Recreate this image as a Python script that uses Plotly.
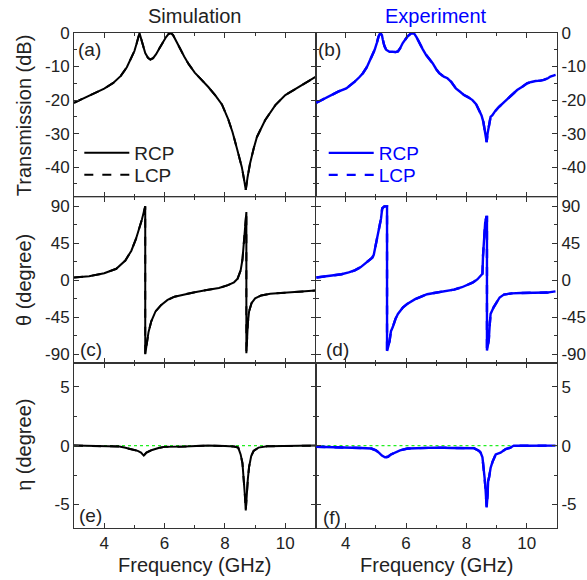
import plotly.graph_objects as go
from plotly.subplots import make_subplots

# ---------------- data ----------------
# (a) Simulated transmission (dB)
sim_T_freq = [3.0, 3.3, 3.6, 4.0, 4.3, 4.55, 4.75, 4.9, 5.0, 5.07, 5.12, 5.17, 5.22, 5.28, 5.36,
              5.45, 5.53, 5.62, 5.72, 5.84, 5.95, 6.05, 6.13, 6.2, 6.28, 6.38, 6.5, 6.65, 6.8,
              7.0, 7.2, 7.45, 7.7, 7.9, 8.1, 8.25, 8.4, 8.5, 8.56, 8.63, 8.69, 8.75, 8.83, 8.95,
              9.06, 9.33, 9.67, 10.0, 10.3, 10.56, 10.8, 11.0]
sim_T = [-20.8, -19.6, -18.3, -16.6, -14.9, -12.8, -10.2, -7.6, -5.4, -3.3, -1.6, 0.0, -1.6, -3.8, -6.0,
         -7.4, -7.9, -7.5, -6.3, -4.4, -2.6, -1.2, -0.3, 0.0, -0.6, -2.2, -4.4, -7.0, -9.3,
         -11.8, -13.7, -16.1, -18.8, -21.3, -25.5, -29.5, -34.5, -38.0, -40.0, -43.5, -46.8, -43.0, -39.0, -34.5,
         -31.0, -26.0, -21.5, -18.5, -16.8, -15.5, -14.2, -13.1]

# (b) Measured transmission (dB)
exp_T_freq = [3.03, 3.2, 3.42, 3.6, 3.75, 4.02, 4.15, 4.3, 4.45, 4.57, 4.7, 4.79, 4.88, 4.96, 5.03, 5.09,
              5.15, 5.2, 5.23, 5.28, 5.34, 5.45, 5.56, 5.65, 5.73, 5.8, 5.89, 5.97, 6.05, 6.16, 6.27,
              6.35, 6.44, 6.55, 6.66, 6.77, 6.88, 7.0, 7.1, 7.25, 7.37, 7.5, 7.65, 7.8, 7.92, 8.05,
              8.2, 8.32, 8.42, 8.5, 8.56, 8.61, 8.64, 8.67, 8.7, 8.75, 8.8, 8.86, 8.95, 9.08, 9.2,
              9.35, 9.5, 9.68, 9.85, 10.01, 10.15, 10.29, 10.45, 10.56, 10.7, 10.78, 10.88, 10.95]
exp_T = [-20.8, -20.0, -19.0, -18.0, -17.5, -16.5, -15.6, -14.5, -13.2, -12.0, -10.2, -8.5, -6.8, -5.0, -3.0, -1.0,
         0.0, -0.6, -2.0, -3.8, -5.0, -5.6, -5.6, -5.7, -5.5, -4.6, -3.0, -2.0, -1.0, -0.2, -0.2,
         -1.3, -3.0, -4.8, -6.5, -7.6, -9.0, -10.8, -12.0, -13.0, -13.5, -14.6, -16.5, -17.6, -18.5, -19.1,
         -20.0, -21.2, -23.0, -24.6, -26.5, -29.0, -31.0, -32.5, -30.0, -27.0, -25.0, -24.5, -23.3, -22.0, -21.0,
         -19.5, -18.3, -17.0, -16.0, -15.0, -14.6, -14.3, -14.2, -14.0, -13.5, -13.0, -12.7, -12.5]

# (c) Simulated rotation angle theta (degree)
sim_th_freq = [3.0, 3.5, 4.0, 4.4, 4.7, 4.9, 5.05, 5.17, 5.25, 5.31, 5.35, 5.36, 5.36, 5.4, 5.47,
               5.56, 5.7, 5.89, 6.1, 6.33, 6.7, 7.0, 7.4, 7.8, 8.1, 8.3, 8.42, 8.52, 8.58, 8.63,
               8.67, 8.7, 8.71, 8.71, 8.73, 8.76, 8.8, 8.88, 9.0, 9.2, 9.5, 10.0, 10.5, 11.0]
sim_th = [3.3, 5.0, 8.5, 14.0, 24.0, 36.0, 50.0, 63.0, 74.0, 83.0, 88.0, 90.0, -90.0, -78.0, -63.0,
          -50.0, -38.0, -30.0, -24.0, -20.0, -16.5, -14.5, -12.0, -9.5, -6.0, -2.5, 2.0, 12.0, 25.0, 45.0,
          65.0, 78.0, 83.0, -89.0, -72.0, -52.0, -38.0, -28.0, -22.0, -18.5, -16.5, -15.0, -13.5, -12.5]

# (d) Measured rotation angle theta (degree)
exp_th_freq = [3.03, 3.2, 3.42, 3.65, 3.86, 4.1, 4.3, 4.5, 4.63, 4.78, 4.88, 4.93, 4.97, 5.01, 5.07,
               5.12, 5.17, 5.21, 5.28, 5.37, 5.37, 5.4, 5.45, 5.5, 5.56, 5.65, 5.73, 5.9, 6.05,
               6.3, 6.49, 6.7, 6.93, 7.3, 7.59, 7.85, 8.03, 8.2, 8.36, 8.47, 8.53, 8.55, 8.58,
               8.62, 8.66, 8.68, 8.68, 8.7, 8.74, 8.77, 8.8, 8.9, 8.97, 9.1, 9.24, 9.5, 9.79,
               10.2, 10.67, 10.95]
exp_th = [3.3, 4.0, 5.0, 6.2, 7.3, 9.5, 12.0, 16.0, 20.0, 24.0, 27.5, 31.0, 38.0, 45.0, 55.0,
          63.0, 75.0, 87.5, 90.0, 90.0, -86.0, -82.0, -75.0, -62.0, -57.0, -47.0, -41.0, -33.0, -28.5,
          -23.0, -20.0, -17.0, -15.5, -13.0, -11.4, -8.5, -6.0, -3.0, 1.0, 5.0, 8.0, 30.0, 53.0,
          70.0, 77.0, 77.0, -85.5, -82.0, -73.0, -55.0, -41.0, -33.0, -28.5, -21.0, -17.5, -16.0, -15.5,
          -15.3, -15.0, -13.5]

# (e) Simulated ellipticity eta (degree)
sim_eta_freq = [3.0, 4.0, 4.5, 4.67, 4.85, 5.0, 5.11, 5.22, 5.31, 5.4, 5.56, 5.8, 6.0, 6.67, 7.44,
                8.0, 8.3, 8.44, 8.52, 8.58, 8.62, 8.66, 8.69, 8.72, 8.76, 8.8, 8.87, 8.95, 9.11,
                9.4, 10.0, 11.0]
sim_eta = [0.0, -0.03, -0.08, -0.17, -0.26, -0.35, -0.45, -0.6, -0.85, -0.6, -0.4, -0.2, -0.11, -0.08, 0.0,
           -0.04, -0.08, -0.17, -0.75, -1.5, -2.6, -4.2, -5.5, -4.2, -2.8, -1.8, -0.9, -0.45, -0.17,
           -0.06, -0.03, 0.0]

# (f) Measured ellipticity eta (degree)
exp_eta_freq = [3.03, 3.5, 4.08, 4.5, 4.85, 5.0, 5.1, 5.2, 5.3, 5.4, 5.5, 5.62, 5.8, 6.05, 6.5,
                7.0, 7.5, 7.81, 8.25, 8.42, 8.47, 8.53, 8.58, 8.6, 8.63, 8.65, 8.67, 8.7, 8.72,
                8.75, 8.8, 8.86, 8.97, 9.13, 9.3, 9.46, 9.57, 10.0, 10.5, 10.95]
exp_eta = [-0.1, -0.12, -0.17, -0.2, -0.25, -0.4, -0.6, -0.85, -1.0, -0.95, -0.75, -0.6, -0.4, -0.25, -0.2,
           -0.17, -0.2, -0.23, -0.23, -0.45, -0.6, -1.0, -1.9, -2.7, -3.6, -4.5, -5.25, -4.2, -3.0,
           -2.7, -1.9, -1.4, -0.75, -0.6, -0.3, -0.17, 0.0, -0.02, 0.0, 0.0]

# ---------------- axes: ranges and tick labels ----------------
x_range = [3, 11]
x_tickvals = [4, 6, 8, 10]
x_ticktext = ["4", "6", "8", "10"]
T_range = [-49, 0]
T_tickvals = [0, -10, -20, -30, -40]
T_ticktext = ["0", "-10", "-20", "-30", "-40"]
th_range = [-101, 101]
th_tickvals = [90, 45, 0, -45, -90]
th_ticktext = ["90", "45", "0", "-45", "-90"]
eta_range = [-7, 7]
eta_tickvals = [5, 0, -5]
eta_ticktext = ["5", "0", "-5"]

BLACK = "#000000"
BLUE = "#0000ff"
GREEN = "#22ee22"
AXC = "#333333"
FONT = "Liberation Sans, Arial, sans-serif"

fig = make_subplots(rows=3, cols=2, horizontal_spacing=0, vertical_spacing=0)

panels = [
    (sim_T_freq, sim_T, 1, 1, BLACK, 2.0, ("legend", "legend3")),
    (exp_T_freq, exp_T, 1, 2, BLUE, 2.4, ("legend2", "legend4")),
    (sim_th_freq, sim_th, 2, 1, BLACK, 2.0, None),
    (exp_th_freq, exp_th, 2, 2, BLUE, 2.4, None),
    (sim_eta_freq, sim_eta, 3, 1, BLACK, 2.0, None),
    (exp_eta_freq, exp_eta, 3, 2, BLUE, 2.4, None),
]

for f, v, r, c, col, w, leg in panels:
    # LCP (dashed) overlaps RCP
    fig.add_trace(go.Scatter(x=f, y=v, mode="lines", name="LCP",
                             line=dict(color=col, width=w, dash="dash"),
                             showlegend=leg is not None,
                             legend=leg[1] if leg else "legend",
                             hoverinfo="skip"), row=r, col=c)
    fig.add_trace(go.Scatter(x=f, y=v, mode="lines", name="RCP",
                             line=dict(color=col, width=w),
                             showlegend=leg is not None,
                             legend=leg[0] if leg else "legend"), row=r, col=c)

for r in (2, 3):
    for c in (1, 2):
        fig.add_hline(y=0, row=r, col=c, layer="below",
                      line=dict(color=GREEN, width=1.3, dash="dot"))

tickfont = dict(family=FONT, size=17, color="#222222")
common = dict(showline=True, linecolor=AXC, linewidth=1, mirror="ticks",
              ticks="inside", ticklen=5, tickcolor=AXC, tickwidth=1,
              showgrid=False, zeroline=False, tickfont=tickfont, automargin=False)

yspecs = {1: (T_range, T_tickvals, T_ticktext, 5, [1 - 0.332, 1.0]),
          2: (th_range, th_tickvals, th_ticktext, 22.5, [0.333, 0.668]),
          3: (eta_range, eta_tickvals, eta_ticktext, 2.5, [0.0, 0.333])}

for r in (1, 2, 3):
    rng, tv, tt, mdt, dom = yspecs[r]
    for c in (1, 2):
        fig.update_xaxes(range=x_range, tickmode="array", tickvals=x_tickvals, ticktext=x_ticktext,
                         showticklabels=(r == 3),
                         minor=dict(ticks="inside", ticklen=3, dtick=1, tick0=3, tickcolor=AXC),
                         domain=[0, 0.5] if c == 1 else [0.5, 1.0],
                         row=r, col=c, **common)
        fig.update_yaxes(range=rng, tickmode="array", tickvals=tv, ticktext=tt, domain=dom,
                         side="left" if c == 1 else "right",
                         minor=dict(ticks="inside", ticklen=3, dtick=mdt, tick0=0, tickcolor=AXC),
                         row=r, col=c, **common)

def ann(text, x, y, size=19, color="#222222", angle=0, xshift=0):
    fig.add_annotation(text=text, x=x, y=y, xref="paper", yref="paper",
                       xanchor="center", yanchor="middle", showarrow=False,
                       textangle=angle, xshift=xshift,
                       font=dict(family=FONT, size=size, color=color))

ann("Simulation", 0.25, 1.034, size=20)
ann("Experiment", 0.75, 1.034, size=20, color=BLUE)
ann("Transmission (dB)", 0, 0.834, size=20, angle=-90, xshift=-50)
ann("θ (degree)", 0, 0.501, size=20, angle=-90, xshift=-50)
ann("η (degree)", 0, 0.168, size=20, angle=-90, xshift=-50)
ann("Frequency (GHz)", 0.25, -0.075, size=20)
ann("Frequency (GHz)", 0.75, -0.075, size=20)
ann("(a)", 0.033, 0.966)
ann("(b)", 0.530, 0.966)
ann("(c)", 0.035, 0.360)
ann("(d)", 0.545, 0.360)
ann("(e)", 0.035, 0.026)
ann("(f)", 0.534, 0.022)

legfont = dict(family=FONT, size=19)
def legend_box(x, y, color):
    return dict(x=x, y=y, xanchor="left", yanchor="top", bgcolor="rgba(0,0,0,0)",
                font=dict(color=color, **legfont), itemwidth=45, tracegroupgap=0)

fig.update_layout(
    width=587, height=580,
    margin=dict(l=74, r=30, t=33, b=52, autoexpand=False),
    paper_bgcolor="white", plot_bgcolor="white",
    showlegend=True,
    hovermode=False,
    legend=legend_box(0.011, 0.796, "#222222"),
    legend3=legend_box(0.011, 0.7515, "#222222"),
    legend2=legend_box(0.517, 0.796, BLUE),
    legend4=legend_box(0.517, 0.7515, BLUE),
)

fig.write_html("out.html",
               config={"displayModeBar": False},
               post_script="document.body.style.margin='0';document.body.style.overflow='hidden';")
